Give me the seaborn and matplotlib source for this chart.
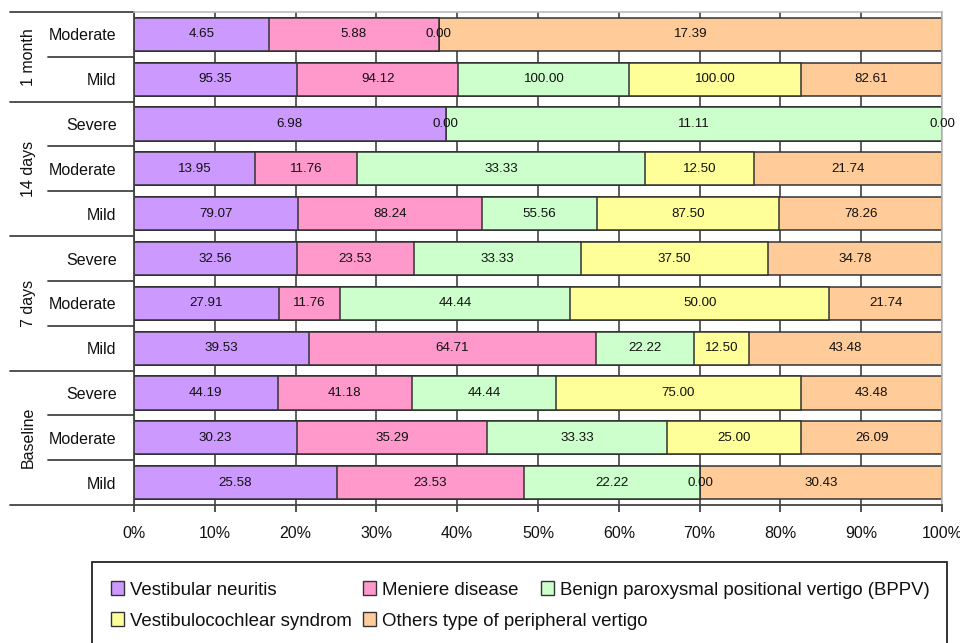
import numpy as np
import pandas as pd
import seaborn as sns
import matplotlib.pyplot as plt
import matplotlib.transforms as mtrans
from matplotlib.patches import Patch, Rectangle

# rows listed top to bottom
groups = ['1 month', '1 month', '14 days', '14 days', '14 days',
          '7 days', '7 days', '7 days', 'Baseline', 'Baseline', 'Baseline']
severity = ['Moderate', 'Mild', 'Severe', 'Moderate', 'Mild',
            'Severe', 'Moderate', 'Mild', 'Severe', 'Moderate', 'Mild']

diseases = ['Vestibular neuritis', 'Meniere disease',
            'Benign paroxysmal positional vertigo (BPPV)',
            'Vestibulocochlear syndrom', 'Others type of peripheral vertigo']
colors = ['#CC99FF', '#FF99CC', '#CCFFCC', '#FFFF99', '#FFCC99']

vestibular_neuritis = [4.65, 95.35, 6.98, 13.95, 79.07, 32.56, 27.91, 39.53, 44.19, 30.23, 25.58]
meniere = [5.88, 94.12, 0.00, 11.76, 88.24, 23.53, 11.76, 64.71, 41.18, 35.29, 23.53]
bppv = [0.00, 100.00, 11.11, 33.33, 55.56, 33.33, 44.44, 22.22, 44.44, 33.33, 22.22]
vestibulocochlear = [np.nan, 100.00, np.nan, 12.50, 87.50, 37.50, 50.00, 12.50, 75.00, 25.00, 0.00]
others = [17.39, 82.61, 0.00, 21.74, 78.26, 34.78, 21.74, 43.48, 43.48, 26.09, 30.43]

df = pd.DataFrame({
    diseases[0]: vestibular_neuritis,
    diseases[1]: meniere,
    diseases[2]: bppv,
    diseases[3]: vestibulocochlear,
    diseases[4]: others,
})
df['row'] = [f'{g} | {s}' for g, s in zip(groups, severity)]
order = list(df['row'])

vals = df[diseases].fillna(0)
pct = vals.div(vals.sum(axis=1), axis=0) * 100
cum = pct.cumsum(axis=1)

sns.set_style('white')
plt.rcParams['font.family'] = ['Liberation Sans', 'DejaVu Sans']
plt.rcParams['text.color'] = '#111111'

W, H = 960, 643
fig = plt.figure(figsize=(9.6, 6.43), dpi=100)
ax = fig.add_axes([0.1396, 0.2146, 0.8417, 0.7667])

# stacked bars: draw cumulative totals from last to first
for i in reversed(range(len(diseases))):
    sns.barplot(x=cum[diseases[i]], y=df['row'], order=order, orient='h',
                color=colors[i], edgecolor='#333333', linewidth=1.1,
                width=0.74, saturation=1, ax=ax)

# value labels
for r in range(len(df)):
    for i, d in enumerate(diseases):
        v = df[d].iloc[r]
        if pd.isna(v):
            continue
        xc = cum[d].iloc[r] - pct[d].iloc[r] / 2
        ax.text(xc, r, f'{v:.2f}', ha='center', va='center', fontsize=9.6, color='#111111')

ax.set_xlim(0, 100)
ax.set_ylim(len(df) - 0.5, -0.5)
ax.set_xticks(np.arange(0, 101, 10))
ax.set_xticklabels([f'{t}%' for t in range(0, 101, 10)], fontsize=11.5, color='#111111')
ax.set_yticks(range(len(df)))
ax.set_yticklabels(severity, fontsize=11.5, color='#111111')
ax.set_xlabel('')
ax.set_ylabel('')
ax.tick_params(axis='y', left=False, pad=9)
ax.tick_params(axis='x', bottom=True, direction='out', length=5, width=1.2,
               color='#333333', pad=10)
ax.xaxis.grid(True, color='#333333', linewidth=1.1)
ax.set_axisbelow(True)

for side in ['top', 'right']:
    ax.spines[side].set_color('#BBBBBB')
    ax.spines[side].set_linewidth(1.2)
for side in ['left', 'bottom']:
    ax.spines[side].set_color('#444444')
    ax.spines[side].set_linewidth(1.3)

# grouped category axis on the left
tr = mtrans.blended_transform_factory(ax.transAxes, ax.transData)
for y in [-0.5, 1.5, 4.5, 7.5, 10.5]:
    ax.plot([-0.1535, 0], [y, y], transform=tr, color='#444444', lw=1.3, clip_on=False)
for y in [0.5, 2.5, 3.5, 5.5, 6.5, 8.5, 9.5]:
    ax.plot([-0.1064, 0], [y, y], transform=tr, color='#444444', lw=1.3, clip_on=False)
for g in ['1 month', '14 days', '7 days', 'Baseline']:
    idx = [k for k, gg in enumerate(groups) if gg == g]
    ax.text(-0.131, np.mean(idx), g, transform=tr, rotation=90,
            ha='center', va='center', fontsize=11.5)

# legend: frame plus one entry per disease placed like the original
fig.add_artist(Rectangle((92 / W, 1 - 660 / H), 855 / W, 98 / H, transform=fig.transFigure,
                         facecolor='white', edgecolor='#222222', linewidth=1.3))
entry_pos = [(111, 590), (363, 590), (541, 590), (111, 621), (363, 621)]
for k, (px, py) in enumerate(entry_pos):
    h = Patch(facecolor=colors[k], edgecolor='#333333', linewidth=1)
    fig.legend([h], [diseases[k]], loc='center left', bbox_to_anchor=(px / W, 1 - py / H),
               fontsize=13.4, frameon=False, handlelength=0.72, handleheight=0.72,
               handletextpad=0.3, borderpad=0, borderaxespad=0)

fig.savefig('out.png', dpi=100)
